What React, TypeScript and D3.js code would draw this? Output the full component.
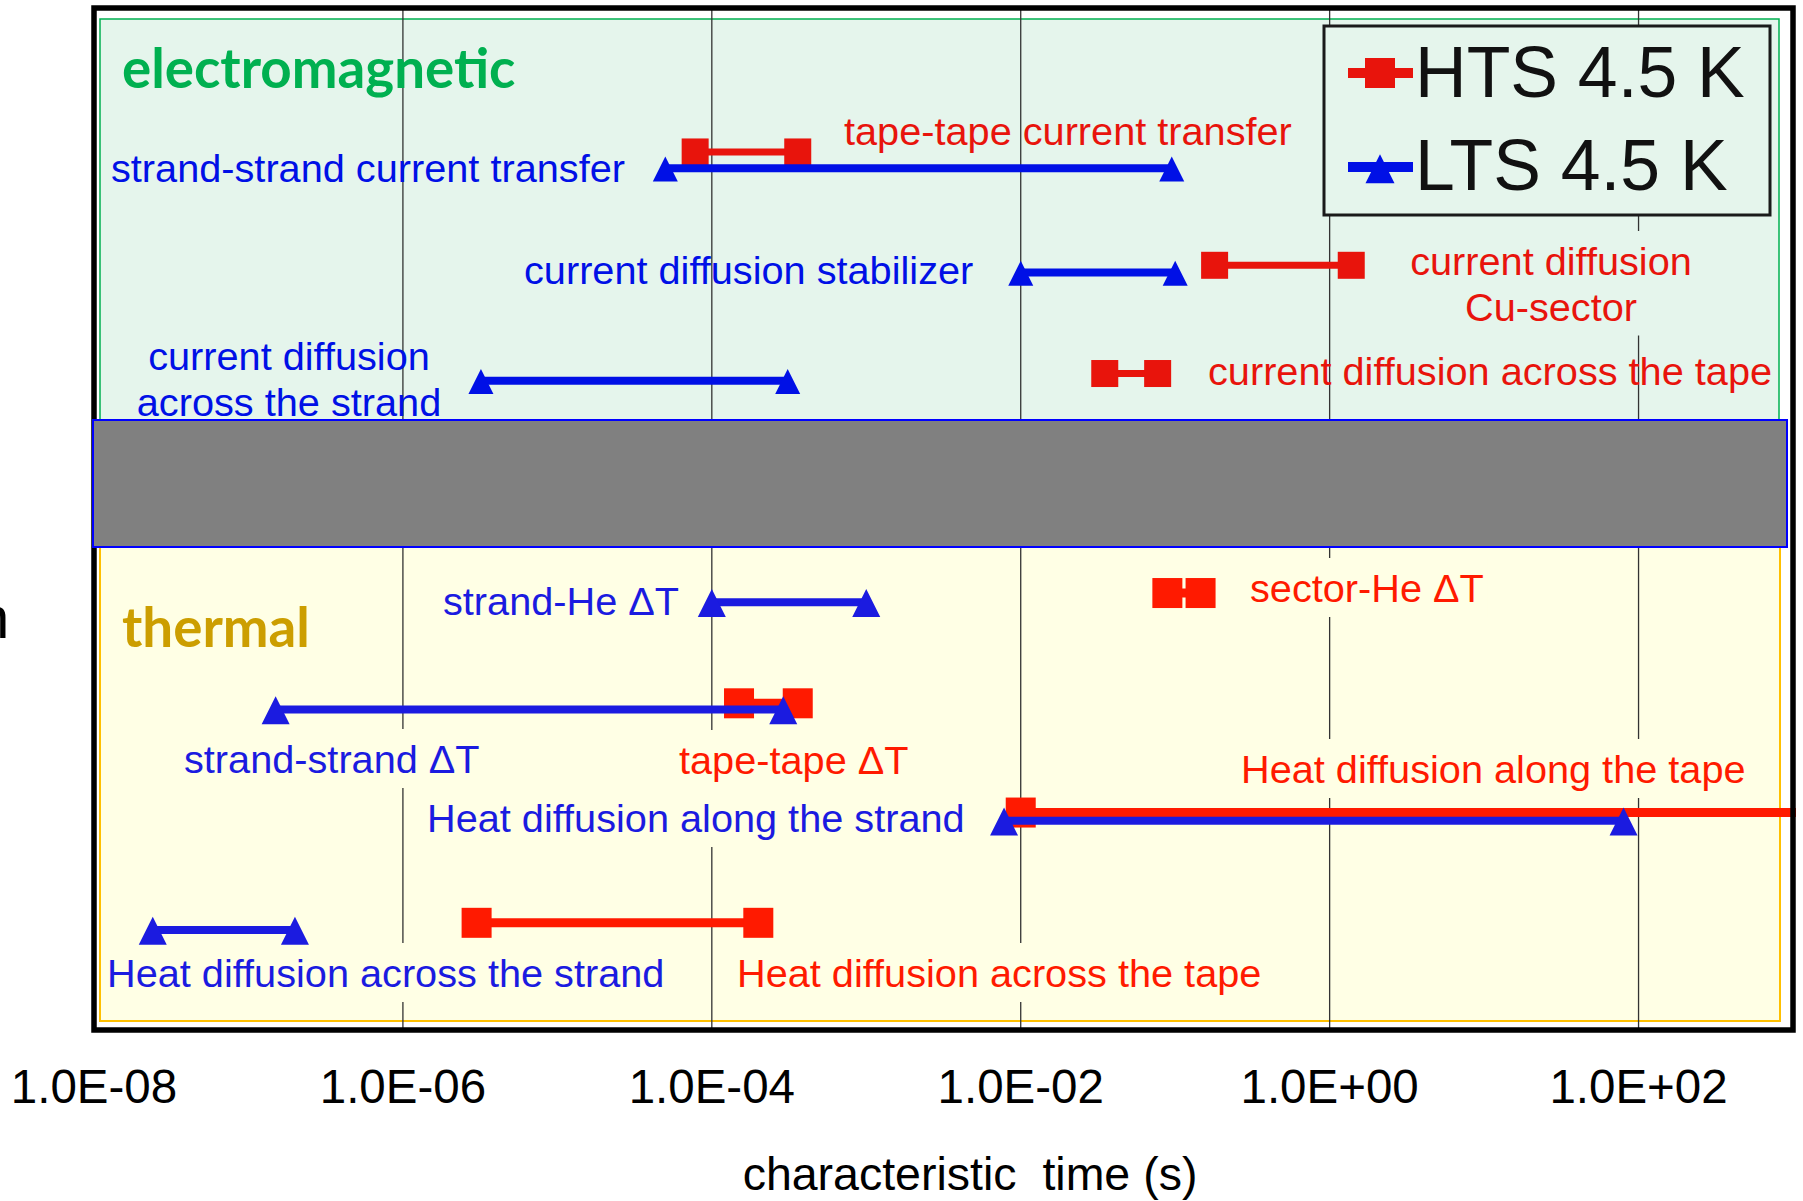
import React, { useLayoutEffect, useRef, useState } from "react";
import * as d3 from "d3";

const W = 1803;
const H = 1201;

// HTS 4.5 K ranges, characteristic time in s, level = row height
const htsNames = [
  "tape-tape current transfer",
  "current diffusion Cu-sector",
  "current diffusion across the tape",
  "sector-He ΔT",
  "tape-tape ΔT",
  "Heat diffusion along the tape",
  "Heat diffusion across the tape",
];
const htsMin = [7.8e-5, 0.18, 0.035, 0.089, 1.5e-4, 1.0e-2, 3.0e-6];
const htsMax = [3.6e-4, 1.38, 0.077, 0.146, 3.6e-4, 3e3, 2.0e-4];
const htsLevel = [8.59, 7.48, 6.42, 4.27, 3.19, 2.12, 1.04];
const htsPanel = ["em", "em", "em", "th", "th", "th", "th"];

// LTS 4.5 K ranges
const ltsNames = [
  "strand-strand current transfer",
  "current diffusion stabilizer",
  "current diffusion across the strand",
  "strand-He ΔT",
  "strand-strand ΔT",
  "Heat diffusion along the strand",
  "Heat diffusion across the strand",
];
const ltsMin = [5.0e-5, 1.0e-2, 3.2e-6, 1.0e-4, 1.5e-7, 7.8e-3, 2.4e-8];
const ltsMax = [0.095, 0.1, 3.1e-4, 1.0e-3, 2.9e-4, 80, 2.0e-7];
const ltsLevel = [8.43, 7.41, 6.35, 4.18, 3.13, 2.04, 0.97];
const ltsPanel = ["em", "em", "em", "th", "th", "th", "th"];

const tickValues = [1e-8, 1e-6, 1e-4, 1e-2, 1, 1e2];
const tickLabels = ["1.0E-08", "1.0E-06", "1.0E-04", "1.0E-02", "1.0E+00", "1.0E+02"];
const gridValues = [1e-6, 1e-4, 1e-2, 1, 1e2];
const legendNames = ["HTS 4.5 K", "LTS 4.5 K"];
const axisTitle = "characteristic\u00a0 time (s)";

const FONT = "'Liberation Sans', Arial, sans-serif";
const TITLE_FONT = "Lato, 'Open Sans', sans-serif";

const style = {
  em: { fill: "#E5F5EC", sq: 27, tri: 25, hLine: 7, lLine: 8, red: "#E8140C", blue: "#0010E6" },
  th: { fill: "#FFFFE5", sq: 30, tri: 28, hLine: 9, lLine: 8, red: "#FF1A00", blue: "#1B1BE0" },
} as const;

type LabelSpec = {
  lines: string[];
  x: number;
  y: number;
  mid?: boolean;
  series: "hts" | "lts";
  panel: "em" | "th";
  bg?: boolean;
};

// where the annotations sit on the page
const labels: LabelSpec[] = [
  { lines: ["tape-tape current transfer"], x: 844, y: 145, series: "hts", panel: "em" },
  { lines: ["strand-strand current transfer"], x: 111, y: 182, series: "lts", panel: "em" },
  { lines: ["current diffusion stabilizer"], x: 524, y: 284, series: "lts", panel: "em" },
  { lines: ["current diffusion", "Cu-sector"], x: 1551, y: 275, mid: true, series: "hts", panel: "em", bg: true },
  { lines: ["current diffusion", "across the strand"], x: 289, y: 370, mid: true, series: "lts", panel: "em" },
  { lines: ["current diffusion across the tape"], x: 1208, y: 385, series: "hts", panel: "em" },
  { lines: ["strand-He ΔT"], x: 443, y: 615, series: "lts", panel: "th", bg: true },
  { lines: ["sector-He ΔT"], x: 1250, y: 602, series: "hts", panel: "th", bg: true },
  { lines: ["strand-strand ΔT"], x: 184, y: 773, series: "lts", panel: "th", bg: true },
  { lines: ["tape-tape ΔT"], x: 679, y: 774, series: "hts", panel: "th", bg: true },
  { lines: ["Heat diffusion along the tape"], x: 1241, y: 783, series: "hts", panel: "th", bg: true },
  { lines: ["Heat diffusion along the strand"], x: 427, y: 832, series: "lts", panel: "th", bg: true },
  { lines: ["Heat diffusion across the strand"], x: 107, y: 987, series: "lts", panel: "th", bg: true },
  { lines: ["Heat diffusion across the tape"], x: 737, y: 987, series: "hts", panel: "th", bg: true },
];

const frame = { x0: 94, y0: 8, x1: 1793, y1: 1030 };

const x = d3.scaleLog().domain([1e-8, 1e3]).range([frame.x0, frame.x1]);
const y = d3.scaleLinear().domain([0, 10]).range([1029, 8]);

function triPath(size: number) {
  const h = size;
  const b = size;
  return (d3.line()([
    [0, -h * 0.47],
    [b / 2, h * 0.53],
    [-b / 2, h * 0.53],
  ]) as string) + "Z";
}

function Label({ l }: { l: LabelSpec }) {
  const ref = useRef<SVGTextElement>(null);
  const [box, setBox] = useState<DOMRect | null>(null);
  useLayoutEffect(() => {
    if (l.bg && ref.current) setBox(ref.current.getBBox());
  }, [l]);
  const s = style[l.panel];
  const color = l.series === "hts" ? s.red : s.blue;
  return (
    <g>
      {box && (
        <rect x={box.x - 4} y={box.y - 8} width={box.width + 8} height={box.height + 15} fill={s.fill} />
      )}
      <text
        ref={ref}
        x={l.x}
        y={l.y}
        fill={color}
        fontFamily={FONT}
        fontSize={39.7}
        textAnchor={l.mid ? "middle" : "start"}
      >
        {l.lines.map((t, i) => (
          <tspan key={i} x={l.x} dy={i === 0 ? 0 : 45.5}>
            {t}
          </tspan>
        ))}
      </text>
    </g>
  );
}

export default function App() {
  const hts = htsNames.map((name, i) => ({ name, min: htsMin[i], max: htsMax[i], level: htsLevel[i], panel: htsPanel[i] as "em" | "th" }));
  const lts = ltsNames.map((name, i) => ({ name, min: ltsMin[i], max: ltsMax[i], level: ltsLevel[i], panel: ltsPanel[i] as "em" | "th" }));
  const minor = x.ticks().filter((v) => Math.abs(Math.log10(v) - Math.round(Math.log10(v))) > 1e-6);

  return (
    <svg width={W} height={H} style={{ position: "absolute", left: 0, top: 0, background: "#fff" }}>
      <defs>
        <clipPath id="plotClip">
          <rect x={frame.x0} y={frame.y0} width={frame.x1 - frame.x0 + 3} height={frame.y1 - frame.y0} />
        </clipPath>
      </defs>

      {/* panels */}
      <rect x={100} y={19} width={1679} height={401} fill={style.em.fill} stroke="#00B050" strokeWidth={1.5} />
      <rect x={100} y={547} width={1680} height={474} fill={style.th.fill} stroke="#FFC000" strokeWidth={2} />

      {/* gridlines */}
      {gridValues.map((v) => (
        <line key={v} x1={x(v)} x2={x(v)} y1={frame.y0} y2={frame.y1} stroke="#333" strokeWidth={1.3} />
      ))}

      {labels.map((l, i) => (
        <Label key={i} l={l} />
      ))}

      <g clipPath="url(#plotClip)">
        {hts.map((d) => {
          const s = style[d.panel];
          const yy = y(d.level);
          return (
            <g key={d.name}>
              <line x1={x(d.min)} x2={x(d.max)} y1={yy} y2={yy} stroke={s.red} strokeWidth={s.hLine} />
              {[d.min, d.max].map((v, j) => (
                <rect key={j} x={x(v) - s.sq / 2} y={yy - s.sq / 2} width={s.sq} height={s.sq} fill={s.red} />
              ))}
            </g>
          );
        })}
        {lts.map((d) => {
          const s = style[d.panel];
          const yy = y(d.level);
          return (
            <g key={d.name}>
              <line x1={x(d.min)} x2={x(d.max)} y1={yy} y2={yy} stroke={s.blue} strokeWidth={s.lLine} />
              {[d.min, d.max].map((v, j) => (
                <path key={j} d={triPath(s.tri)} transform={`translate(${x(v)},${yy})`} fill={s.blue} />
              ))}
            </g>
          );
        })}
      </g>

      {/* plot frame */}
      <rect
        x={frame.x0}
        y={frame.y0}
        width={frame.x1 - frame.x0}
        height={frame.y1 - frame.y0}
        fill="none"
        stroke="#000"
        strokeWidth={5.5}
      />

      {/* gap band */}
      <rect x={93} y={420} width={1694} height={127} fill="#808080" stroke="#0000FF" strokeWidth={2} />

      {/* minor ticks */}
      {minor.map((v) => (
        <line key={v} x1={x(v)} x2={x(v)} y1={frame.y1 - 1} y2={frame.y1 - 8} stroke="#000" strokeWidth={1.3} />
      ))}

      {/* legend */}
      <g>
        <rect x={1324} y={26} width={446} height={189} fill={style.em.fill} stroke="#1a1a1a" strokeWidth={3} />
        <line x1={1348} x2={1413} y1={73} y2={73} stroke={style.em.red} strokeWidth={10} />
        <rect x={1365} y={58} width={30} height={30} fill={style.em.red} />
        <text x={1415} y={97} fontFamily={FONT} fontSize={71.5} fill="#111">
          {legendNames[0]}
        </text>
        <line x1={1348} x2={1413} y1={167} y2={167} stroke={style.em.blue} strokeWidth={10} />
        <path d={triPath(29)} transform="translate(1380,168)" fill={style.em.blue} />
        <text x={1415} y={190} fontFamily={FONT} fontSize={71.5} fill="#111">
          {legendNames[1]}
        </text>
      </g>

      {/* panel titles */}
      <text x={122} y={88} fontFamily={TITLE_FONT} fontWeight={700} fontSize={54.7} fill="#00B050">
        electromagnetic
      </text>
      <text x={122} y={647} fontFamily={TITLE_FONT} fontWeight={700} fontSize={54.7} fill="#CC9E00">
        thermal
      </text>

      {/* x axis */}
      {tickValues.map((v, i) => (
        <text key={v} x={x(v)} y={1103} textAnchor="middle" fontFamily={FONT} fontSize={47.5} fill="#000">
          {tickLabels[i]}
        </text>
      ))}
      <text x={970} y={1190} textAnchor="middle" fontFamily={FONT} fontSize={46.5} fill="#000">
        {axisTitle}
      </text>

      {/* cut-off y title fragment at the page edge, as in the source */}
      <text x={-24} y={638} fontFamily={FONT} fontSize={60} fill="#000">
        n
      </text>
    </svg>
  );
}
